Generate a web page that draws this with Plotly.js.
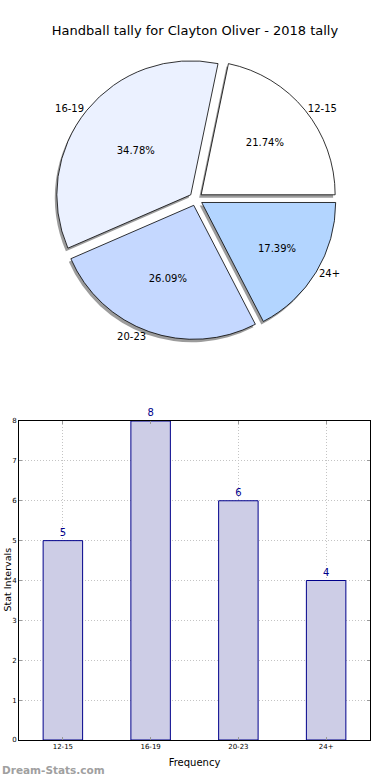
<!DOCTYPE html>
<html>
<head>
<meta charset="utf-8">
<script src="https://cdn.plot.ly/plotly-3.0.1.min.js"></script>
<style>html,body{margin:0;padding:0;background:#fff;}#chart{width:390px;height:780px;}</style>
</head>
<body>
<div id="chart"></div>
<script>
const categories = ["12-15", "16-19", "20-23", "24+"];
const counts = [5, 8, 6, 4];
const sliceColors = ["#ffffff", "#ebf1ff", "#c5d8ff", "#b3d5ff"];
const yTicks = [0, 1, 2, 3, 4, 5, 6, 7, 8];
const chartTitle = "Handball tally for Clayton Oliver - 2018 tally";

const F = "DejaVu Sans, sans-serif";
const total = counts.reduce((a, b) => a + b, 0);
// counterclockwise pies in Plotly end the first slice at `rotation`; start it at 3 o'clock instead
const rot = 90 - 360 * counts[0] / total;
const pieDomain = {x: [0.1410, 0.8640], y: [0.5645, 0.9252]};
const shadowDomain = {x: [pieDomain.x[0] - 2/390, pieDomain.x[1] - 2/390], y: [pieDomain.y[0] - 3/780, pieDomain.y[1] - 3/780]};
const pulls = categories.map(() => 0.05);

const shadow = {
  type: "pie", labels: categories, values: counts, sort: false,
  direction: "counterclockwise", rotation: rot, pull: pulls,
  domain: shadowDomain, marker: {colors: categories.map(() => "rgba(90,90,90,0.6)"), line: {width: 0}},
  textinfo: "none", hoverinfo: "skip", showlegend: false
};
const main = {
  type: "pie", labels: categories, values: counts, sort: false,
  direction: "counterclockwise", rotation: rot, pull: pulls,
  domain: pieDomain, marker: {colors: sliceColors, line: {color: "#000", width: 0.8}},
  texttemplate: "%{percent:.2%}", textposition: "inside", insidetextorientation: "horizontal",
  textfont: {family: F, size: 10, color: "#000"}, showlegend: false
};
const labelsTrace = {
  type: "pie", labels: categories, values: counts, sort: false,
  direction: "counterclockwise", rotation: rot, pull: pulls,
  domain: pieDomain, marker: {colors: categories.map(() => "rgba(0,0,0,0)"), line: {width: 0}},
  textinfo: "label", textposition: "outside", automargin: false,
  outsidetextfont: {family: F, size: 10, color: "#000"}, hoverinfo: "skip", showlegend: false
};
const bars = {
  type: "bar", x: categories, y: counts, width: 0.45,
  marker: {color: "#cdcde6", line: {color: "#00008b", width: 1}},
  text: counts.map(String), textposition: "outside", cliponaxis: false,
  textfont: {family: F, size: 10, color: "#00008b"}, xaxis: "x", yaxis: "y", showlegend: false
};

const layout = {
  width: 390, height: 780, margin: {l: 0, r: 0, t: 0, b: 0},
  paper_bgcolor: "#fff", plot_bgcolor: "#fff", showlegend: false,
  title: {text: chartTitle, font: {family: F, size: 13, color: "#000"}, x: 0.5, xanchor: "center", y: 1 - 30/780, yanchor: "middle"},
  xaxis: {
    domain: [19/390, 370/390], anchor: "y", range: [-0.5, 3.5], type: "category",
    showgrid: true, gridcolor: "#c4c4c4", griddash: "1px,2px", gridwidth: 1,
    showline: true, linecolor: "#000", linewidth: 1, mirror: "ticks",
    ticks: "inside", ticklen: 3, tickcolor: "#999",
    tickfont: {family: F, size: 7, color: "#000"},
    title: {text: "Frequency", font: {family: F, size: 10, color: "#000"}, standoff: 8},
    fixedrange: true, zeroline: false
  },
  yaxis: {
    domain: [1 - 740/780, 1 - 421/780], anchor: "x", range: [0, 8], tickvals: yTicks,
    showgrid: true, gridcolor: "#c4c4c4", griddash: "1px,2px", gridwidth: 1,
    showline: true, linecolor: "#000", linewidth: 1, mirror: "ticks",
    ticks: "inside", ticklen: 3, tickcolor: "#999",
    tickfont: {family: F, size: 7, color: "#000"}, zeroline: false, fixedrange: true
  },
  annotations: [
    {text: "Stat Intervals", textangle: -90, xref: "paper", yref: "paper", x: 0, y: 1 - 580/780,
     xanchor: "left", yanchor: "middle", showarrow: false, borderpad: 0, font: {family: F, size: 9.5, color: "#000"}},
    {text: "<b>Dream-Stats.com</b>", xref: "paper", yref: "paper", x: 0, y: 1 - 770/780,
     xanchor: "left", yanchor: "middle", showarrow: false, font: {family: F, size: 10.5, color: "#a0a0a0"}}
  ]
};

Plotly.newPlot("chart", [shadow, labelsTrace, main, bars], layout, {displayModeBar: false, staticPlot: true});
</script>
</body>
</html>
